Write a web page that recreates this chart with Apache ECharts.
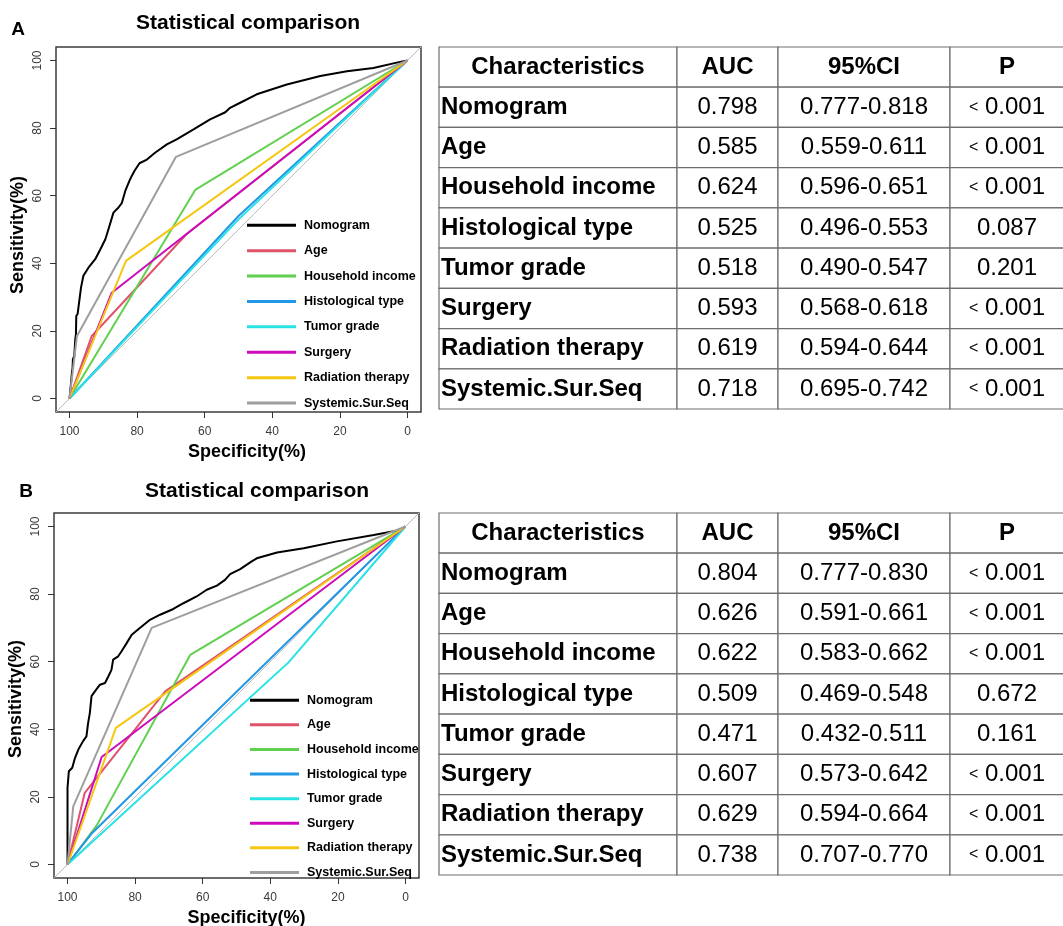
<!DOCTYPE html>
<html><head><meta charset="utf-8">
<script src="https://cdn.jsdelivr.net/npm/echarts@6/dist/echarts.min.js"></script>
<style>html,body{margin:0;padding:0;background:#fff}#c{width:1063px;height:926px}</style>
</head><body><div id="c"></div><script>
const FONT = '"Liberation Sans", Arial, sans-serif';

// ---------- data ----------
const names = ['Nomogram','Age','Household income','Histological type','Tumor grade','Surgery','Radiation therapy','Systemic.Sur.Seq'];
const colors = ['#000000','#DF536B','#61D04F','#2297E6','#28E2E5','#CD0BBC','#F5C710','#9E9E9E'];
const axisTicks = [0,20,40,60,80,100];
const diagonal = [[104,-4],[-4,104]];

// Panel A curves: [specificity, sensitivity]
const nomogramA = [[100,0],[99.8,0.3],[99.6,4],[99.3,7.7],[99.1,9],[99.0,11.6],[98.6,12.5],[98.3,17.5],[98.1,19],[98.0,24.4],[97.6,25],[97.3,27.4],[96.6,32.8],[95.9,36.3],[94.4,38.7],[92.4,41.2],[90.9,44.1],[89.4,47.1],[88.5,50.0],[87.0,55.0],[85.5,56.5],[84.5,57.9],[83.5,61.4],[82.1,64.8],[81.5,66],[80.8,67.3],[79.3,69.6],[77.1,70.7],[74.7,72.7],[71.2,75.2],[68.3,76.7],[63.3,79.6],[58.4,82.6],[53.9,84.7],[52.5,86.0],[49.5,87.5],[44.6,90.0],[35.7,92.9],[25.8,95.4],[17.9,96.8],[10.1,97.8],[2.2,99.6],[0,100]];
const ageA = [[100,0],[93.4,18.5],[65.4,48.6],[0,100]];
const incomeA = [[100,0],[62.8,61.7],[0,100]];
const histA = [[100,0],[50,54],[0,100]];
const gradeA = [[100,0],[50,53],[0,100]];
const surgeryA = [[100,0],[87.5,31.3],[0,100]];
const radiationA = [[100,0],[83.3,40.7],[0,100]];
const systemicA = [[100,0],[97.8,18.5],[68.5,71.5],[0,100]];

// Panel B curves
const nomogramB = [[100,0],[100,22.7],[99.6,27.6],[98.6,28.6],[97.8,31.5],[96.8,34.0],[95.4,36.5],[94.4,37.9],[93.9,41.9],[93.4,44.8],[92.9,49.8],[91.9,51.2],[90.4,53.2],[88.9,53.7],[87.9,55.7],[87.0,57.6],[86.5,60.6],[85.0,61.6],[84.0,63.1],[82.5,65.5],[81.0,68.0],[78.6,70.0],[75.6,72.4],[72.6,73.9],[68.7,75.6],[65.7,77.3],[61.8,79.3],[58.8,81.3],[55.8,82.5],[53.4,84.2],[51.9,85.9],[48.9,87.4],[45.5,89.7],[44,90.6],[38,92.3],[30.1,93.6],[20.3,95.6],[9.4,97.5],[1.5,99.0],[0,100]];
const ageB = [[100,0],[94.9,21.2],[71.1,51.2],[0,100]];
const incomeB = [[100,0],[91.4,11.5],[63.7,62],[0,100]];
const histB = [[100,0],[93,9],[0,100]];
const gradeB = [[100,0],[34.6,59.8],[0,100]];
const surgeryB = [[100,0],[89.9,31.8],[0,100]];
const radiationB = [[100,0],[85.7,40.4],[0,100]];
const systemicB = [[100,0],[98.3,17.2],[75.1,70.0],[0,100]];

// Tables
const tableHeader = ['Characteristics','AUC','95%CI','P'];
const aucA = [0.798,0.585,0.624,0.525,0.518,0.593,0.619,0.718];
const ciA = ['0.777-0.818','0.559-0.611','0.596-0.651','0.496-0.553','0.490-0.547','0.568-0.618','0.594-0.644','0.695-0.742'];
const pA = ['<0.001','<0.001','<0.001','0.087','0.201','<0.001','<0.001','<0.001'];
const aucB = [0.804,0.626,0.622,0.509,0.471,0.607,0.629,0.738];
const ciB = ['0.777-0.830','0.591-0.661','0.583-0.662','0.469-0.548','0.432-0.511','0.573-0.642','0.594-0.664','0.707-0.770'];
const pB = ['<0.001','<0.001','<0.001','0.672','0.161','<0.001','<0.001','<0.001'];

// ---------- layout ----------
const colEdges = [0, 238, 339, 511, 625];
const curvesA = [nomogramA, ageA, incomeA, histA, gradeA, surgeryA, radiationA, systemicA];
const curvesB = [nomogramB, ageB, incomeB, histB, gradeB, surgeryB, radiationB, systemicB];

function rocAxes(gi, namePadX, namePadY) {
  const common = {
    gridIndex: gi, type: 'value', min: -4, max: 104,
    axisLine: {show: false, onZero: false},
    axisTick: {show: true, inside: false, length: 6, customValues: axisTicks, lineStyle: {color: '#333', width: 1}},
    splitLine: {show: false},
    nameLocation: 'middle'
  };
  return {
    x: Object.assign({}, common, {
      position: 'bottom', inverse: true,
      axisLabel: {customValues: axisTicks, margin: 14, fontSize: 12, color: '#3a3a3a', fontFamily: FONT},
      name: 'Specificity(%)', nameGap: 31,
      nameTextStyle: {fontSize: 18, fontWeight: 'bold', color: '#000', fontFamily: FONT, padding: [0, 0, 0, namePadX]}
    }),
    y: Object.assign({}, common, {
      position: 'left',
      axisLabel: {customValues: axisTicks, margin: 12.5, rotate: 90, fontSize: 12, color: '#3a3a3a', fontFamily: FONT},
      name: 'Sensitivity(%)', nameGap: 29,
      nameTextStyle: {fontSize: 18, fontWeight: 'bold', color: '#000', fontFamily: FONT, padding: [0, namePadY, 0, 0]}
    })
  };
}

function rocSeries(gi, curves) {
  const out = [{
    type: 'line', name: 'reference', xAxisIndex: gi, yAxisIndex: gi, data: diagonal,
    symbol: 'none', silent: true, lineStyle: {color: '#BDBDBD', width: 1}, itemStyle: {color: '#BDBDBD'}
  }];
  curves.forEach((d, i) => out.push({
    type: 'line', name: names[i], xAxisIndex: gi, yAxisIndex: gi, data: d,
    symbol: 'none', showSymbol: false, clip: true,
    lineStyle: {color: colors[i], width: 2}, itemStyle: {color: colors[i]}
  }));
  return out;
}

function tableSeries(gi, auc, ci, p) {
  const rows = [tableHeader].concat(names.map((n, i) => [n, auc[i].toFixed(3), ci[i], p[i]]));
  const data = [];
  rows.forEach((r, ri) => r.forEach((t, c) => data.push([c, ri])));
  return {
    type: 'custom', coordinateSystem: 'cartesian2d', xAxisIndex: gi, yAxisIndex: gi, data, silent: true,
    renderItem(params, api) {
      const c = api.value(0), r = api.value(1);
      const ctr = api.coord([0, r]);
      const bh = api.size([0, 1])[1];
      const xa = api.coord([colEdges[c], r])[0];
      const xb = api.coord([colEdges[c + 1], r])[0];
      let text = rows[r][c];
      const bold = r === 0 || c === 0;
      const leftAlign = r > 0 && c === 0;
      if (text.charAt(0) === '<') text = '{s|<} ' + text.slice(1);
      return {type: 'group', children: [
        {type: 'rect', shape: {x: xa, y: ctr[1] - bh / 2, width: xb - xa, height: bh},
         style: {fill: '#fff', stroke: '#6e6e6e', lineWidth: 1.2}},
        {type: 'text', x: leftAlign ? xa + 2 : (xa + xb) / 2, y: ctr[1],
         style: {text, align: leftAlign ? 'left' : 'center', verticalAlign: 'middle',
                 fontSize: 24, fontWeight: bold ? 'bold' : 'normal', fontFamily: FONT, fill: '#000',
                 rich: {s: {fontSize: 16, fontFamily: FONT, fill: '#000'}}}}
      ]};
    }
  };
}

const axA = rocAxes(0, 17, 11);
const axB = rocAxes(1, 20, 7);
const rowKeys = ['header'].concat(names);

const titleStyle = (size) => ({fontSize: size, fontWeight: 'bold', color: '#000', fontFamily: FONT});
const legendBase = {
  data: names, orient: 'vertical', itemWidth: 49, itemHeight: 3, icon: 'rect', padding: 0, selectedMode: false,
  textStyle: {fontSize: 12.5, fontWeight: 'bold', color: '#000', fontFamily: FONT, padding: [0, 0, 0, 3]}
};

const option = {
  animation: false,
  backgroundColor: '#fff',
  title: [
    {text: 'A', left: 18, top: 29.5, textAlign: 'center', textVerticalAlign: 'middle', padding: 0, textStyle: titleStyle(19)},
    {text: 'Statistical comparison', left: 248, top: 23, textAlign: 'center', textVerticalAlign: 'middle', padding: 0, textStyle: titleStyle(21)},
    {text: 'B', left: 26, top: 491.5, textAlign: 'center', textVerticalAlign: 'middle', padding: 0, textStyle: titleStyle(19)},
    {text: 'Statistical comparison', left: 257, top: 491, textAlign: 'center', textVerticalAlign: 'middle', padding: 0, textStyle: titleStyle(21)}
  ],
  legend: [
    Object.assign({}, legendBase, {left: 247, top: 218.75, itemGap: 12.4}),
    Object.assign({}, legendBase, {left: 250, top: 693.75, itemGap: 11.6})
  ],
  grid: [
    {left: 56, top: 47, width: 365, height: 365, show: true, borderColor: '#3c3c3c', borderWidth: 1.5, outerBoundsMode: 'none'},
    {left: 54, top: 513, width: 365, height: 365, show: true, borderColor: '#3c3c3c', borderWidth: 1.5, outerBoundsMode: 'none'},
    {left: 439, top: 47, width: 625, height: 362, show: false, outerBoundsMode: 'none'},
    {left: 439, top: 513, width: 625, height: 362, show: false, outerBoundsMode: 'none'}
  ],
  xAxis: [axA.x, axB.x,
    {gridIndex: 2, type: 'value', min: 0, max: 625, show: false},
    {gridIndex: 3, type: 'value', min: 0, max: 625, show: false}],
  yAxis: [axA.y, axB.y,
    {gridIndex: 2, type: 'category', data: rowKeys, inverse: true, show: false},
    {gridIndex: 3, type: 'category', data: rowKeys, inverse: true, show: false}],
  series: [].concat(
    rocSeries(0, curvesA),
    rocSeries(1, curvesB),
    [tableSeries(2, aucA, ciA, pA), tableSeries(3, aucB, ciB, pB)]
  )
};

const chart = echarts.init(document.getElementById('c'), null, {renderer: 'canvas'});
chart.setOption(option);
</script></body></html>
